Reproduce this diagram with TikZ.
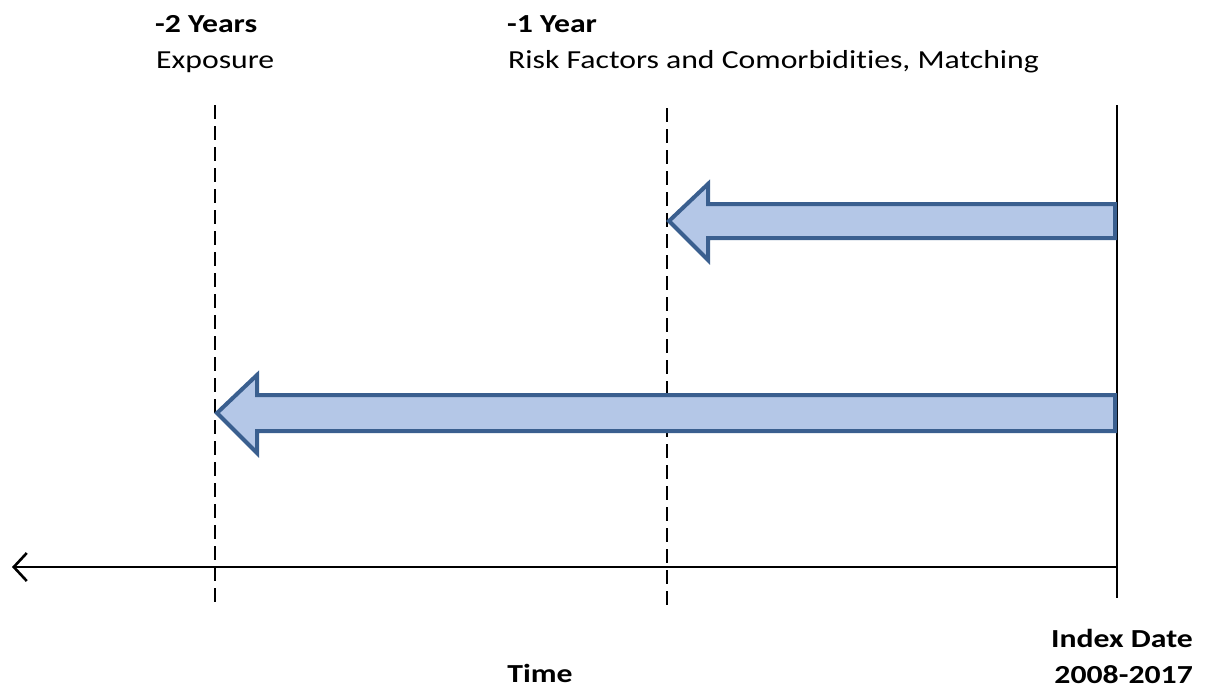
\documentclass[tikz,border=0pt]{standalone}
\usepackage{fontspec}
\setmainfont[FakeStretch=1.22,Ligatures=NoCommon]{Carlito}
\usetikzlibrary{arrows.meta}
\definecolor{arrfill}{HTML}{B4C7E7}
\definecolor{arredge}{HTML}{3A5F8F}
\begin{document}
\begin{tikzpicture}[x=1pt,y=-1pt,
  lbl/.style={inner sep=0pt,font=\fontsize{26}{30}\selectfont},
  blbl/.style={lbl,font=\fontsize{26}{30}\selectfont\bfseries},
  guide/.style={line width=1.8pt,dash pattern=on 14pt off 7pt},
  solidguide/.style={line width=1.8pt},
  bigarrow/.style={draw=arredge,fill=arrfill,line width=4pt,line join=miter}]
\useasboundingbox (0,0) rectangle (1206,694);
% guide lines
\coordinate (g2top) at (215,105);
\coordinate (g2bot) at (215,606);
\coordinate (g1top) at (667,108);
\coordinate (g1bot) at (667,606);
\coordinate (idxtop) at (1117,105);
\coordinate (idxbot) at (1117,598);
\draw[guide] (g2top) -- (g2bot);
\draw[guide] (g1top) -- (g1bot);
\draw[solidguide] (idxtop) -- (idxbot);
% time axis
\coordinate (axend) at (12,567);
\coordinate (axstart) at (1117,567);
\draw[line width=2.2pt,-{Straight Barb[length=13pt,width=28pt,line width=2.6pt]}] (axstart) -- (axend);
% arrows
\draw[bigarrow] (1115,204) -- (708,204) -- (708,184) -- (669,221) -- (708,260) -- (708,238) -- (1115,238) -- cycle;
\draw[bigarrow] (1115,395) -- (257,395) -- (257,375) -- (217,413) -- (257,453) -- (257,431) -- (1115,431) -- cycle;
% texts
\node[blbl,anchor=base west] (t2) at (155,32) {-2 Years};
\node[lbl,anchor=base west] (e2) at (156,68) {Exposure};
\node[blbl,anchor=base west] (t1) at (507,32) {-1 Year};
\node[lbl,anchor=base west] (e1) at (508,68) {Risk Factors and Comorbidities, Matching};
\node[blbl,anchor=base] (time) at (540,682) {Time};
\node[blbl,anchor=base east] (idx) at (1193,647) {Index Date};
\node[blbl,anchor=base east] (yrs) at (1193,683) {2008-2017};
\end{tikzpicture}
\end{document}
